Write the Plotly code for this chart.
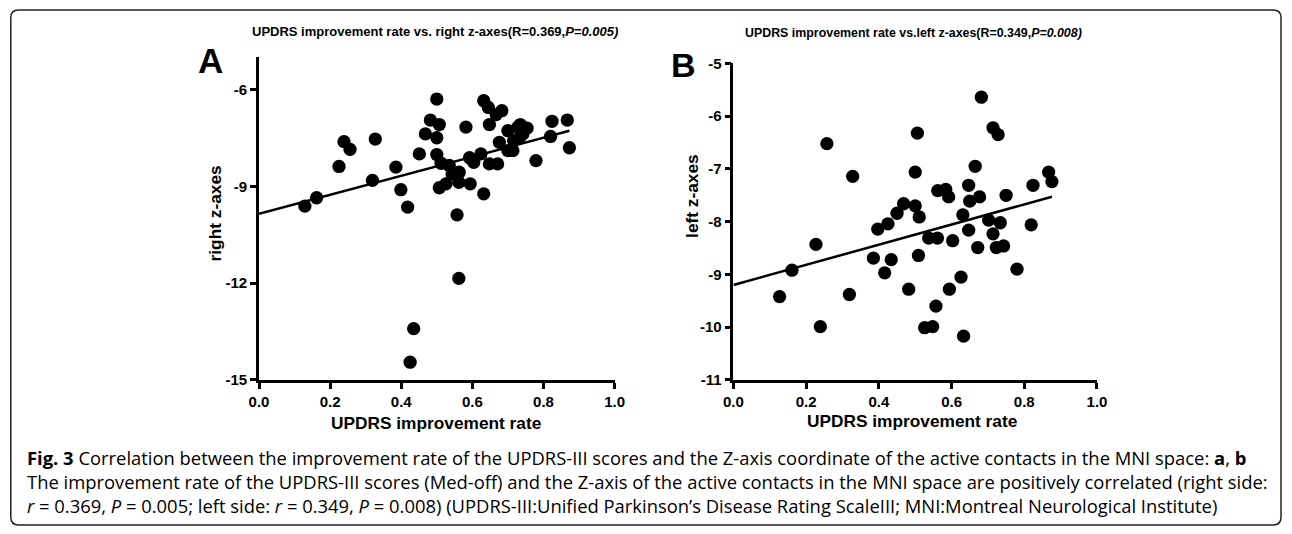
import plotly.graph_objects as go

# ---------------- data ----------------
a_x = [0.129, 0.162, 0.225, 0.239, 0.256, 0.319, 0.327, 0.385, 0.399, 0.418,
       0.435, 0.425, 0.451, 0.468, 0.482, 0.500, 0.507, 0.500, 0.500, 0.512,
       0.507, 0.526, 0.535, 0.543, 0.557, 0.562, 0.563, 0.562, 0.582, 0.592,
       0.594, 0.604, 0.624, 0.632, 0.645, 0.632, 0.648, 0.648, 0.667, 0.683,
       0.671, 0.676, 0.700, 0.700, 0.714, 0.716, 0.728, 0.735, 0.742, 0.754,
       0.735, 0.779, 0.824, 0.820, 0.867, 0.873]
a_y = [-9.61, -9.35, -8.38, -7.61, -7.85, -8.81, -7.53, -8.40, -9.10, -9.64,
       -13.41, -14.45, -7.99, -7.37, -6.94, -6.29, -7.08, -7.49, -8.01, -8.28,
       -9.04, -8.92, -8.35, -8.61, -9.88, -11.85, -8.56, -8.87, -7.16, -8.11,
       -8.92, -8.25, -7.99, -6.34, -6.55, -9.23, -7.08, -8.30, -6.77, -6.65,
       -8.30, -7.63, -7.27, -7.89, -7.89, -7.58, -7.16, -7.08, -7.37, -7.19,
       -7.45, -8.20, -6.98, -7.45, -6.94, -7.80]

b_x = [0.127, 0.161, 0.227, 0.239, 0.257, 0.319, 0.328, 0.385, 0.397, 0.416,
       0.425, 0.434, 0.450, 0.468, 0.482, 0.500, 0.506, 0.500, 0.511, 0.509,
       0.526, 0.548, 0.537, 0.557, 0.562, 0.561, 0.584, 0.592, 0.594, 0.603,
       0.626, 0.631, 0.633, 0.647, 0.647, 0.650, 0.665, 0.672, 0.677, 0.682,
       0.702, 0.714, 0.714, 0.728, 0.723, 0.734, 0.743, 0.750, 0.780, 0.819,
       0.824, 0.867, 0.876]
b_y = [-9.42, -8.92, -8.43, -9.99, -6.52, -9.38, -7.14, -8.69, -8.14, -8.97,
       -8.04, -8.72, -7.84, -7.66, -9.28, -7.06, -6.32, -7.70, -7.91, -8.64,
       -10.01, -9.99, -8.31, -9.60, -7.41, -8.31, -7.39, -7.53, -9.28, -8.36,
       -9.05, -7.87, -10.17, -7.31, -8.16, -7.61, -6.95, -8.49, -7.53, -5.64,
       -7.97, -8.23, -6.22, -6.35, -8.49, -8.02, -8.46, -7.50, -8.90, -8.06,
       -7.31, -7.06, -7.24]

# regression lines: [intercept, slope]
a_fit = [-9.85, 2.95]
b_fit = [-9.20, 1.91]

x_ticks = [0.0, 0.2, 0.4, 0.6, 0.8, 1.0]
x_tick_text = ["0.0", "0.2", "0.4", "0.6", "0.8", "1.0"]
a_y_ticks = [-15, -12, -9, -6]
a_y_tick_text = ["-15", "-12", "-9", "-6"]
b_y_ticks = [-11, -10, -9, -8, -7, -6, -5]
b_y_tick_text = ["-11", "-10", "-9", "-8", "-7", "-6", "-5"]

title_a = "UPDRS improvement rate vs. right z-axes(R=0.369,<i>P=0.005)</i>"
title_b = "UPDRS improvement rate vs.left z-axes(R=0.349,<i>P=0.008)</i>"
x_title = "UPDRS improvement rate"
a_y_title = "right z-axes"
b_y_title = "left z-axes"
caption = [
    "<b>Fig. 3</b> Correlation between the improvement rate of the UPDRS-III scores and the Z-axis coordinate of the active contacts in the MNI space: <b>a</b>, <b>b</b>",
    "The improvement rate of the UPDRS-III scores (Med-off) and the Z-axis of the active contacts in the MNI space are positively correlated (right side:",
    "<i>r</i> = 0.369, <i>P</i> = 0.005; left side: <i>r</i> = 0.349, <i>P</i> = 0.008) (UPDRS-III:Unified Parkinson’s Disease Rating ScaleIII; MNI:Montreal Neurological Institute)",
]

# ---------------- layout helpers ----------------
W, H = 1292, 534
# the captured picture is slightly scaled/offset relative to the page;
# these map a wanted picture position to a paper fraction
SX, OX = 0.9857, 8.7
SY, OY = 0.9707, 8.1
def px(t):
    return ((t - OX) / SX) / W
def py(t):
    return 1 - ((t - OY) / SY) / H

FONT = "Arial"
CAP_FONT = "Open Sans"

fig = go.Figure()

marker = dict(color="black", size=13.3, line=dict(width=0))

fig.add_trace(go.Scatter(x=a_x, y=a_y, mode="markers", marker=marker,
                         xaxis="x", yaxis="y", showlegend=False, hoverinfo="x+y"))
ax_end = max(a_x)
fig.add_trace(go.Scatter(x=[0, ax_end], y=[a_fit[0], a_fit[0] + a_fit[1] * ax_end],
                         mode="lines", line=dict(color="black", width=2.5),
                         xaxis="x", yaxis="y", showlegend=False))

fig.add_trace(go.Scatter(x=b_x, y=b_y, mode="markers", marker=marker,
                         xaxis="x2", yaxis="y2", showlegend=False, hoverinfo="x+y"))
bx_end = max(b_x)
fig.add_trace(go.Scatter(x=[0, bx_end], y=[b_fit[0], b_fit[0] + b_fit[1] * bx_end],
                         mode="lines", line=dict(color="black", width=2.5),
                         xaxis="x2", yaxis="y2", showlegend=False))

axis_common = dict(showgrid=False, zeroline=False, showline=True, linecolor="black",
                   linewidth=2.6, ticks="outside", ticklen=6, tickwidth=2.6,
                   tickcolor="black",
                   tickfont=dict(family=FONT, size=15, color="black", weight="bold"))

fig.update_layout(
    width=W, height=H,
    margin=dict(l=0, r=0, t=0, b=0),
    paper_bgcolor="white", plot_bgcolor="white",
    xaxis=dict(domain=[px(258), px(614)], range=[0, 1], tickvals=x_ticks,
               ticktext=x_tick_text, anchor="y", **axis_common),
    yaxis=dict(domain=[py(380), py(56.7)], range=[-15, -5], tickvals=a_y_ticks,
               ticktext=a_y_tick_text, anchor="x", **axis_common),
    xaxis2=dict(domain=[px(733), px(1097)], range=[0, 1], tickvals=x_ticks,
                ticktext=x_tick_text, anchor="y2", **axis_common),
    yaxis2=dict(domain=[py(380), py(62.7)], range=[-11, -5], tickvals=b_y_ticks,
                ticktext=b_y_tick_text, anchor="x2", **axis_common),
)

ann = []
def add_text(text, x, y, size, family=FONT, bold=True, xanchor="center",
             yanchor="middle", angle=0, align="center"):
    ann.append(dict(text=text, x=px(x), y=py(y), xref="paper", yref="paper",
                    showarrow=False, xanchor=xanchor, yanchor=yanchor, textangle=angle,
                    align=align,
                    font=dict(family=family, size=size, color="black",
                              weight="bold" if bold else "normal")))

add_text(title_a, 434, 31, 13)
add_text(title_b, 913, 32, 12.4)
add_text("A", 209, 60, 35)
add_text("B", 683, 64, 34)
add_text(x_title, 436, 423, 17.3)
add_text(x_title, 912, 421, 17.3)
add_text(a_y_title, 214, 213, 17.3, angle=-90)
add_text(b_y_title, 692, 195, 17.3, angle=-90)
add_text("<br>".join(caption), 24, 482, 18.4, family=CAP_FONT, bold=False,
         xanchor="left", align="left")

fig.update_layout(annotations=ann)

# rounded border around the figure (page pixels)
r = 8
x0, x1, y0, y1 = 0.8, 1291, 1.0, 533
def fx(v):
    return v / W
def fy(v):
    return 1 - v / H
path = (f"M {fx(x0 + r)},{fy(y0)} L {fx(x1 - r)},{fy(y0)} "
        f"Q {fx(x1)},{fy(y0)} {fx(x1)},{fy(y0 + r)} L {fx(x1)},{fy(y1 - r)} "
        f"Q {fx(x1)},{fy(y1)} {fx(x1 - r)},{fy(y1)} L {fx(x0 + r)},{fy(y1)} "
        f"Q {fx(x0)},{fy(y1)} {fx(x0)},{fy(y1 - r)} L {fx(x0)},{fy(y0 + r)} "
        f"Q {fx(x0)},{fy(y0)} {fx(x0 + r)},{fy(y0)} Z")
fig.add_shape(type="path", path=path, xref="paper", yref="paper",
              line=dict(color="#222222", width=1.5), layer="below")

fig.write_html("out.html", config={"displayModeBar": False},
               post_script="document.body.style.margin='0px';document.body.style.overflow='hidden';")
